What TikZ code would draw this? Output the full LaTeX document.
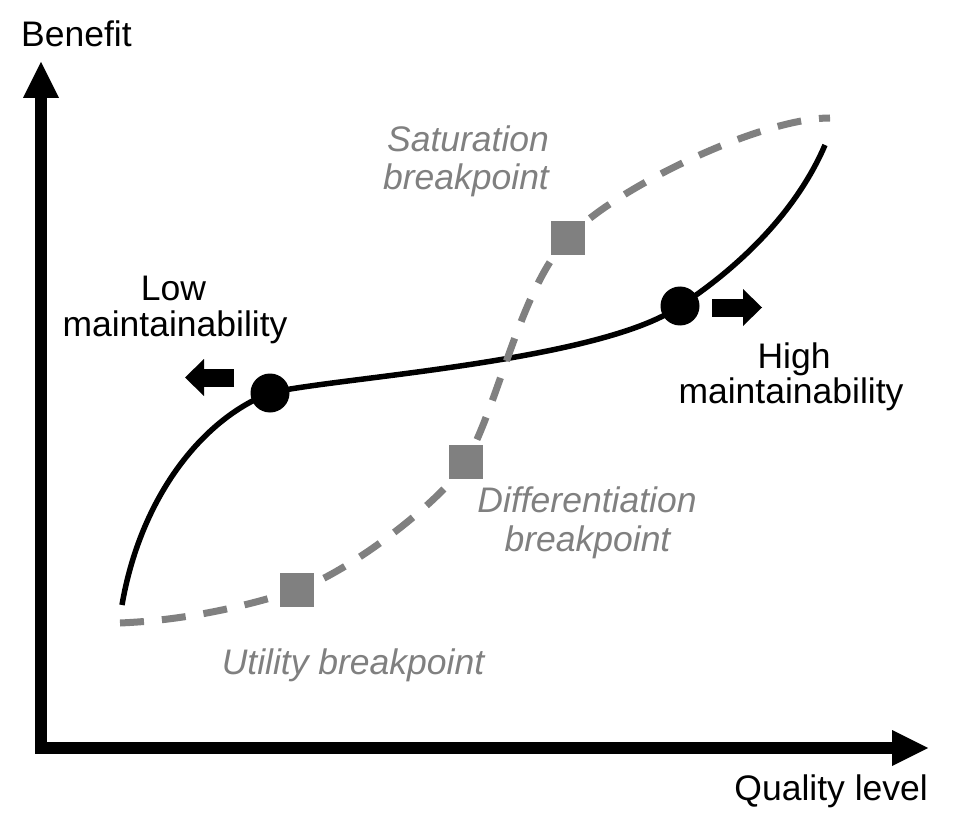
\documentclass[tikz,border=0pt]{standalone}
\usepackage{fontspec}
\setmainfont{Liberation Sans}
\usetikzlibrary{arrows.meta}
\definecolor{markgray}{RGB}{128,128,128}
\tikzset{
  lbl/.style={font=\fontsize{35.5}{40}\selectfont, inner sep=0pt, anchor=base, text=black},
  glbl/.style={lbl, font=\fontsize{35.5}{40}\selectfont\itshape, text=markgray},
  axis/.style={line width=12pt, line cap=rect, -{Triangle[length=36pt,width=36pt,line width=0pt]}},
  smallarrow/.style={line width=18pt, -{Triangle[length=19pt,width=37pt,line width=0pt]}},
  blackcurve/.style={line width=5.5pt, black},
  graycurve/.style={line width=7pt, markgray, dash pattern=on 24pt off 18pt},
  dotmark/.style={circle, fill=black, minimum size=39pt, inner sep=0pt},
  sqmark/.style={rectangle, fill=markgray, minimum size=34pt, inner sep=0pt}
}
\begin{document}
\begin{tikzpicture}[x=1pt,y=-1pt]
\useasboundingbox[fill=white] (0,0) rectangle (966,834);

% axes
\coordinate (O) at (41,748);
\coordinate (ytip) at (41,62);
\coordinate (xtip) at (928,748);
\draw[axis] (O) -- (ytip);
\draw[axis] (O) -- (xtip);
\node[lbl, anchor=base west] (benefit) at (21,47) {Benefit};
\node[lbl, anchor=base east] (quality) at (928,800) {Quality level};

% marker positions
\coordinate (lcp) at (270,393);
\coordinate (hcp) at (680,306);
\coordinate (ubp) at (297,590);
\coordinate (dbp) at (466,462);
\coordinate (sbp) at (568,238);

% curves
\coordinate (bs) at (122,605);
\coordinate (be) at (825,145);
\draw[blackcurve] (bs) .. controls (140,500) and (200,420) .. (lcp)
  .. controls (330,378) and (600,362) .. (hcp)
  .. controls (735,270) and (795,215) .. (be);

\coordinate (ds) at (120,623);
\coordinate (de) at (830,118);
\draw[graycurve] (ds) .. controls (190,620) and (250,605) .. (ubp)
  .. controls (350,572) and (443,500) .. (dbp)
  .. controls (500,400) and (520,290) .. (sbp)
  .. controls (613,189) and (760,118) .. (de);

% markers
\node[dotmark] (lc) at (lcp) {};
\node[dotmark] (hc) at (hcp) {};
\node[sqmark] (ub) at (ubp) {};
\node[sqmark] (db) at (dbp) {};
\node[sqmark] (sb) at (sbp) {};

% small arrows
\coordinate (la1) at (234,377.5);
\coordinate (la2) at (185,377.5);
\draw[smallarrow] (la1) -- (la2);
\coordinate (ra1) at (712,307.5);
\coordinate (ra2) at (762,307.5);
\draw[smallarrow] (ra1) -- (ra2);

% labels
\node[lbl] (low1) at (173.5,300) {Low};
\node[lbl] (low2) at (175,336) {maintainability};
\node[lbl] (high1) at (794,368) {High};
\node[lbl] (high2) at (791,403) {maintainability};
\node[glbl] (sat1) at (468,152) {Saturation};
\node[glbl] (sat2) at (466,190) {breakpoint};
\node[glbl] (dif1) at (587,512) {Differentiation};
\node[glbl] (dif2) at (587.5,551) {breakpoint};
\node[glbl] (util) at (353,674) {Utility breakpoint};
\end{tikzpicture}
\end{document}
